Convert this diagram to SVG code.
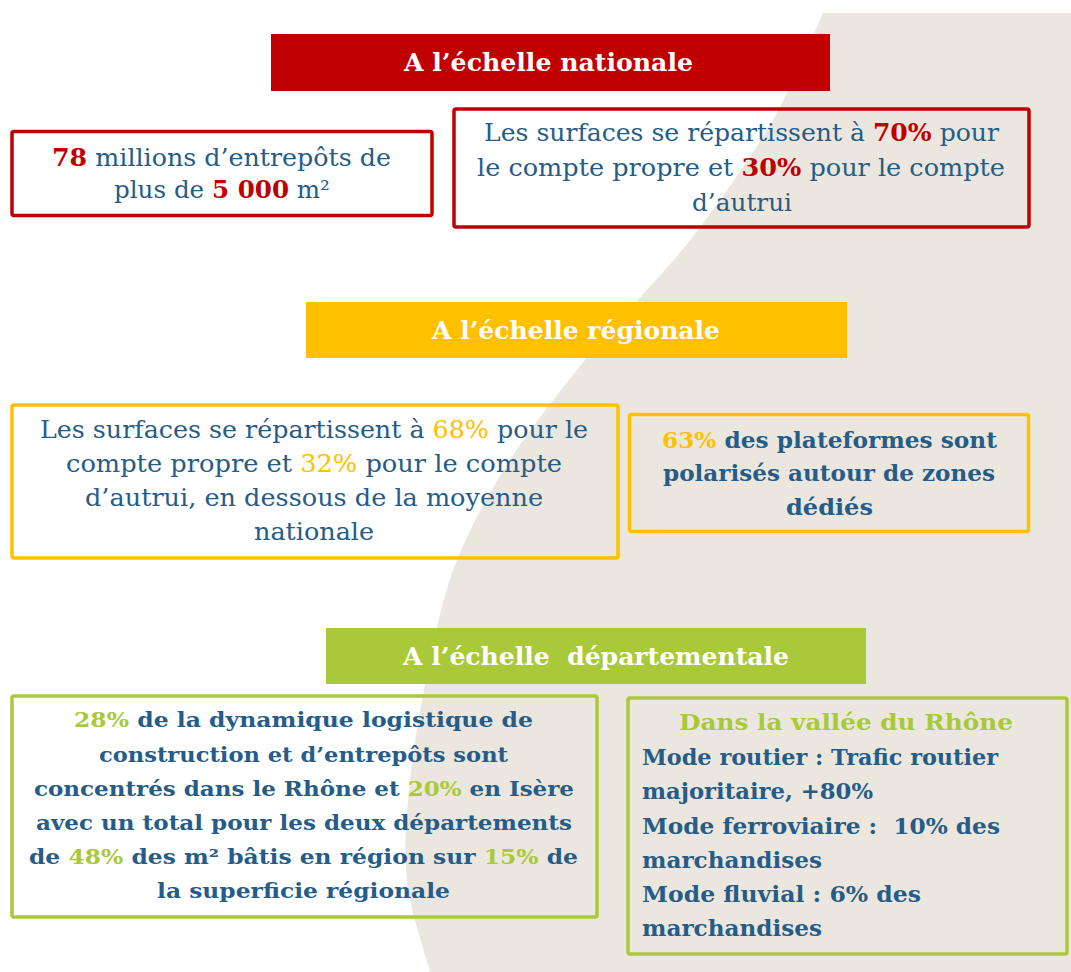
<svg xmlns="http://www.w3.org/2000/svg" width="1071" height="972" viewBox="0 0 1071 972">
<style>
.t{font-family:"DejaVu Serif","Liberation Serif",serif;font-size:24px;fill:#255C88;white-space:pre}
.c{text-anchor:middle}
.s{text-anchor:start}
.b{font-weight:bold;font-size:22px}
.b5{font-weight:bold;font-size:21px}
.h{font-family:"DejaVu Serif","Liberation Serif",serif;font-size:24px;font-weight:bold;fill:#FFFFFF;text-anchor:middle;white-space:pre}
.r{fill:#C00000;font-weight:bold}
.y{fill:#FFC000}
.g{fill:#A9C93A}
.box{fill:none;stroke-width:3.5}
.rb{stroke:#C00000}
.yb{stroke:#FFC000}
.gb{stroke:#A9C93A}
</style>
<rect x="0" y="0" width="1071" height="972" fill="#FFFFFF"/>
<path id="backdrop" d="M823,13 C814.7,30.8 793.8,83.8 773,120 C752.2,156.2 720.5,200 698,230 C675.5,260 656.8,278.3 638,300 C619.2,321.7 606.3,333.3 585,360 C563.7,386.7 531.3,426.7 510,460 C488.7,493.3 470.3,526.7 457,560 C443.7,593.3 437.8,623.3 430,660 C422.2,696.7 413.8,743.3 410,780 C406.2,816.7 403.7,848 407,880 C410.3,912 426.2,956.7 430,972 L1071,972 L1071,13 Z" fill="#ECE7DE"/>

<g id="header-national">
<rect x="271" y="34" width="559" height="57" fill="#C00000"/>
<text class="h" x="548.5" y="71" textLength="289" lengthAdjust="spacingAndGlyphs">A l’échelle nationale</text>
</g>
<g id="box-national-1">
<rect class="box rb" x="12" y="131.5" width="420" height="84" rx="2"/>
<text class="t c" x="221.5" y="166" textLength="339" lengthAdjust="spacingAndGlyphs"><tspan class="r">78</tspan> millions d’entrepôts de</text>
<text class="t c" x="222" y="198" textLength="216" lengthAdjust="spacingAndGlyphs">plus de <tspan class="r">5 000</tspan> m²</text>
</g>
<g id="box-national-2">
<rect class="box rb" x="454" y="109" width="575" height="118" rx="2"/>
<text class="t c" x="741.5" y="141" textLength="515" lengthAdjust="spacingAndGlyphs">Les surfaces se répartissent à <tspan class="r">70%</tspan> pour</text>
<text class="t c" x="741" y="176" textLength="528" lengthAdjust="spacingAndGlyphs">le compte propre et <tspan class="r">30%</tspan> pour le compte</text>
<text class="t c" x="742" y="211" textLength="100" lengthAdjust="spacingAndGlyphs">d’autrui</text>
</g>

<g id="header-regional">
<rect x="306" y="302" width="541" height="56" fill="#FFC000"/>
<text class="h" x="576" y="338.5" textLength="288" lengthAdjust="spacingAndGlyphs">A l’échelle régionale</text>
</g>
<g id="box-regional-1">
<rect class="box yb" x="12" y="405" width="606" height="153" rx="2"/>
<text class="t c" x="314" y="438" textLength="548" lengthAdjust="spacingAndGlyphs">Les surfaces se répartissent à <tspan class="y">68%</tspan> pour le</text>
<text class="t c" x="314" y="472" textLength="496" lengthAdjust="spacingAndGlyphs">compte propre et <tspan class="y">32%</tspan> pour le compte</text>
<text class="t c" x="314" y="506" textLength="458" lengthAdjust="spacingAndGlyphs">d’autrui, en dessous de la moyenne</text>
<text class="t c" x="314" y="540" textLength="120" lengthAdjust="spacingAndGlyphs">nationale</text>
</g>
<g id="box-regional-2">
<rect class="box yb" x="629.5" y="414.5" width="399" height="117" rx="2"/>
<text class="t c b" x="829.5" y="448" textLength="335" lengthAdjust="spacingAndGlyphs"><tspan class="y">63%</tspan> des plateformes sont</text>
<text class="t c b" x="829" y="481" textLength="332" lengthAdjust="spacingAndGlyphs">polarisés autour de zones</text>
<text class="t c b" x="829.5" y="515" textLength="87" lengthAdjust="spacingAndGlyphs">dédiés</text>
</g>

<g id="header-departmental">
<rect x="326" y="628" width="540" height="56" fill="#A9C93A"/>
<text class="h" x="596" y="664.5" textLength="386" lengthAdjust="spacingAndGlyphs">A l’échelle  départementale</text>
</g>
<g id="box-departmental-1">
<rect class="box gb" x="12" y="696" width="585" height="221" rx="2"/>
<text class="t c b5" x="303.5" y="727" textLength="459" lengthAdjust="spacingAndGlyphs"><tspan class="g">28%</tspan> de la dynamique logistique de</text>
<text class="t c b5" x="303.5" y="762" textLength="409" lengthAdjust="spacingAndGlyphs">construction et d’entrepôts sont</text>
<text class="t c b5" x="304" y="796" textLength="540" lengthAdjust="spacingAndGlyphs">concentrés dans le Rhône et <tspan class="g">20%</tspan> en Isère</text>
<text class="t c b5" x="304" y="830" textLength="536" lengthAdjust="spacingAndGlyphs">avec un total pour les deux départements</text>
<text class="t c b5" x="303.5" y="864" textLength="549" lengthAdjust="spacingAndGlyphs">de <tspan class="g">48%</tspan> des m² bâtis en région sur <tspan class="g">15%</tspan> de</text>
<text class="t c b5" x="303.5" y="898" textLength="293" lengthAdjust="spacingAndGlyphs">la superficie régionale</text>
</g>
<g id="box-departmental-2">
<rect class="box gb" x="628" y="698" width="439" height="256" rx="2"/>
<text class="t c b g" x="846" y="730" textLength="334" lengthAdjust="spacingAndGlyphs">Dans la vallée du Rhône</text>
<text class="t s b" x="642" y="765" textLength="356" lengthAdjust="spacingAndGlyphs">Mode routier : Trafic routier</text>
<text class="t s b" x="642" y="799" textLength="231" lengthAdjust="spacingAndGlyphs">majoritaire, +80%</text>
<text class="t s b" x="642" y="834" textLength="358" lengthAdjust="spacingAndGlyphs">Mode ferroviaire :  10% des</text>
<text class="t s b" x="642" y="868" textLength="180" lengthAdjust="spacingAndGlyphs">marchandises</text>
<text class="t s b" x="642" y="902" textLength="279" lengthAdjust="spacingAndGlyphs">Mode fluvial : 6% des</text>
<text class="t s b" x="642" y="936" textLength="180" lengthAdjust="spacingAndGlyphs">marchandises</text>
</g>
<g id="connectors"></g>
</svg>
